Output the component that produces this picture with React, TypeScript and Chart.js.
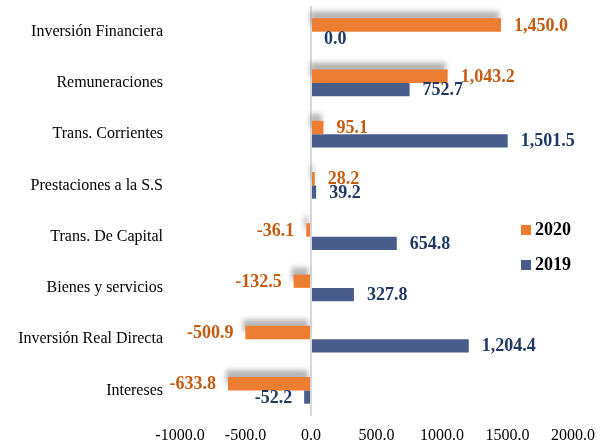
import React, { useEffect, useRef } from "react";
import { Chart, registerables } from "chart.js";

Chart.register(...registerables);

const categories = [
  "Inversión Financiera",
  "Remuneraciones",
  "Trans. Corrientes",
  "Prestaciones a la S.S",
  "Trans. De Capital",
  "Bienes y servicios",
  "Inversión Real Directa",
  "Intereses",
];
const values2020 = [1450.0, 1043.2, 95.1, 28.2, -36.1, -132.5, -500.9, -633.8];
const values2019 = [0.0, 752.7, 1501.5, 39.2, 654.8, 327.8, 1204.4, -52.2];
const seriesLabels = ["2020", "2019"];
const xMin = -1000;
const xMax = 2000;
const xStep = 500;

const ORANGE = "#ED7D31";
const BLUE = "#485D8B";
const ORANGE_TEXT = "#C55A11";
const BLUE_TEXT = "#1F3864";
const FONT = "'Liberation Serif', 'Times New Roman', serif";

const fmt = (v: number) =>
  v.toLocaleString("en-US", { minimumFractionDigits: 1, maximumFractionDigits: 1 });

const shadowPlugin = {
  id: "barShadow",
  beforeDatasetDraw(chart: any, args: any) {
    if (args.index !== 0) return;
    const ctx = chart.ctx;
    ctx.save();
    ctx.shadowColor = "rgba(120,120,120,0.55)";
    ctx.shadowBlur = 5;
    ctx.shadowOffsetX = -2;
    ctx.shadowOffsetY = -7;
  },
  afterDatasetDraw(chart: any, args: any) {
    if (args.index !== 0) return;
    chart.ctx.restore();
  },
};

const labelPlugin = {
  id: "valueLabels",
  afterDatasetsDraw(chart: any) {
    const ctx = chart.ctx;
    ctx.save();
    ctx.font = `bold 18px ${FONT}`;
    ctx.textBaseline = "middle";
    chart.data.datasets.forEach((ds: any, di: number) => {
      const meta = chart.getDatasetMeta(di);
      ctx.fillStyle = di === 0 ? ORANGE_TEXT : BLUE_TEXT;
      meta.data.forEach((el: any, i: number) => {
        const v = ds.data[i] as number;
        const base = chart.scales.x.getPixelForValue(0);
        if (v >= 0) {
          ctx.textAlign = "left";
          ctx.fillText(fmt(v), Math.max(el.x, base) + 13, el.y + 1);
        } else {
          ctx.textAlign = "right";
          ctx.fillText(fmt(v), el.x - 12, el.y + 1);
        }
      });
    });
    ctx.restore();
  },
};

const legendPlugin = {
  id: "sideLegend",
  afterDraw(chart: any) {
    const ctx = chart.ctx;
    ctx.save();
    const items = [
      { text: seriesLabels[0], color: ORANGE, y: 230 },
      { text: seriesLabels[1], color: BLUE, y: 265 },
    ];
    ctx.font = `bold 18px ${FONT}`;
    ctx.textBaseline = "middle";
    ctx.textAlign = "left";
    items.forEach((it) => {
      ctx.fillStyle = it.color;
      ctx.fillRect(521, it.y - 5, 10, 10);
      ctx.fillStyle = "#000";
      ctx.fillText(it.text, 535, it.y);
    });
    ctx.restore();
  },
};

export default function App() {
  const ref = useRef<HTMLCanvasElement | null>(null);
  useEffect(() => {
    document.body.style.margin = "0";
    const canvas = ref.current!;
    const chart = new Chart(canvas, {
      type: "bar",
      data: {
        labels: categories,
        datasets: [
          {
            label: seriesLabels[0],
            data: values2020,
            backgroundColor: ORANGE,
            borderWidth: 0,
            barPercentage: 1,
            categoryPercentage: 0.52,
          },
          {
            label: seriesLabels[1],
            data: values2019,
            backgroundColor: BLUE,
            borderWidth: 0,
            barPercentage: 1,
            categoryPercentage: 0.52,
          },
        ],
      },
      options: {
        indexAxis: "y",
        animation: false,
        responsive: false,
        maintainAspectRatio: false,
        layout: { padding: { top: 6, right: 32, bottom: 0, left: 0 } },
        plugins: {
          legend: { display: false },
          tooltip: { enabled: false },
        },
        scales: {
          x: {
            min: xMin,
            max: xMax,
            ticks: {
              stepSize: xStep,
              color: "#000",
              font: { family: FONT, size: 16 },
              padding: 10,
              maxRotation: 0,
              callback: (v: any) => Number(v).toFixed(1),
            },
            grid: {
              drawTicks: false,
              lineWidth: 2,
              color: (c: any) => (c.tick && c.tick.value === 0 ? "#D9D9D9" : "rgba(0,0,0,0)"),
            },
            border: { display: false },
            afterFit: (s: any) => {
              s.height = 26;
            },
          },
          y: {
            ticks: {
              color: "#000",
              font: { family: FONT, size: 16 },
              padding: 17,
            },
            grid: { display: false, drawTicks: false },
            border: { display: false },
            afterFit: (s: any) => {
              s.width = 180;
              s.paddingTop = 0;
              s.paddingBottom = 0;
            },
          },
        },
      },
      plugins: [shadowPlugin, labelPlugin, legendPlugin],
    } as any);
    return () => chart.destroy();
  }, []);
  return <canvas ref={ref} width={605} height={442} style={{ display: "block" }} />;
}
